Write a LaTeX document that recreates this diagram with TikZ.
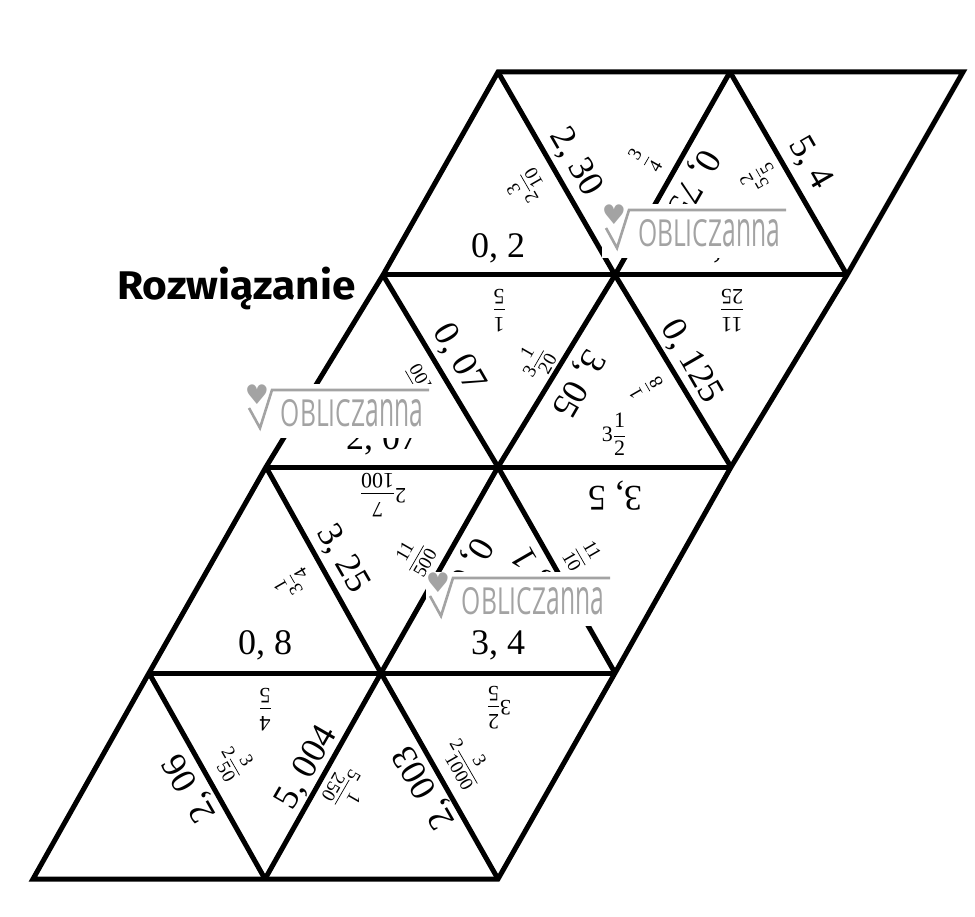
\documentclass[tikz,border=0pt]{standalone}
\usepackage{amsmath}
\usepackage{graphicx}
\usepackage{fontspec}
\setmainfont{Liberation Serif}
\newfontfamily\headfont{Fira Sans}
\newfontfamily\wmfont{Open Sans}
\newfontfamily\djv{DejaVu Sans}
\newcommand\Dfr[2]{\ensuremath{\dfrac{\text{#1}}{\text{#2}}}}
\definecolor{wmg}{HTML}{A3A3A3}
\begin{document}
\begin{tikzpicture}[x=1pt,y=-1pt,
  tri/.style={line width=5pt, line join=miter},
  big/.style={font=\fontsize{36}{36}\selectfont, inner sep=0pt},
  mid/.style={font=\fontsize{22}{26}\selectfont, inner sep=0pt},
  dmix/.style={font=\fontsize{19}{23}\selectfont, inner sep=0pt},
  dfr/.style={font=\fontsize{19}{22}\selectfont, inner sep=0pt},
  wmgray/.style={color=wmg},
  obl/.pic={
    \fill[white] (0,0) rectangle (188,54);
    \node[wmgray, font=\djv\fontsize{27}{27}\selectfont, inner sep=0pt] (-h) at (12,11) {♥};
    \draw[wmgray, line width=2.6pt, line join=miter] (4,24) -- (15,44) -- (27,6) -- (184,6);
    \node[wmgray, inner sep=0pt] (-t) at (107,29.5) {\resizebox{142pt}{27pt}{\wmfont OBLICZ\scalebox{1}[1.33]{anna}}};
  }]
\useasboundingbox (0,0) rectangle (975,917);
\fill[white] (0,0) rectangle (975,917);
% vertices
\coordinate (a0) at (498,72); \coordinate (a1) at (730,72); \coordinate (a2) at (963,72);
\coordinate (b0) at (383,275); \coordinate (b1) at (615,275); \coordinate (b2) at (847,275);
\coordinate (c0) at (266,467); \coordinate (c1) at (498,467); \coordinate (c2) at (731,467);
\coordinate (d0) at (149,673); \coordinate (d1) at (381,673); \coordinate (d2) at (615,673);
\coordinate (e0) at (33,879); \coordinate (e1) at (265,879); \coordinate (e2) at (498,879);
% outline
\draw[tri] (a0) -- (a2) -- (b2) -- (c2) -- (d2) -- (e2) -- (e0) -- (d0) -- (c0) -- (b0) -- cycle;
% inner lines
\draw[tri] (b0) -- (b2);
\draw[tri] (c0) -- (c2);
\draw[tri] (d0) -- (d2);
\draw[tri] (a1) -- (b1) -- (c1) -- (d1) -- (e1);
\draw[tri] (a0) -- (b1) -- (c2);
\draw[tri] (a1) -- (b2);
\draw[tri] (b0) -- (c1) -- (d2);
\draw[tri] (c0) -- (d1) -- (e2);
\draw[tri] (d0) -- (e1);
% labels row 1
\node[big] (l1) at (498,248) {0, 2};
\node[dmix, rotate=120] (l2) at (526,188) {2\Dfr{3}{10}};
\node[big, rotate=-60] (l3) at (575,162) {2, 30};
\node[dfr, rotate=60] (l4) at (645,160) {\Dfr{3}{4}};
\node[big, rotate=-120] (l5) at (692,183) {0, 75};
\node[dmix, rotate=120] (l6) at (759,178) {5\Dfr{2}{5}};
\node[big] (l7) at (731,248) {0, 44};
\node[big, rotate=-60] (l8) at (810,163) {5, 4};
% row 2
\node[big] (l9) at (382,440) {2, 07};
\node[dfr, rotate=120] (l10) at (411,384) {\Dfr{7}{100}};
\node[big, rotate=-60] (l11) at (458,358) {0, 07};
\node[mid, rotate=180] (l12) at (499,311) {\Dfr{1}{5}};
\node[dmix, rotate=60] (l13) at (535,362) {3\Dfr{1}{20}};
\node[big, rotate=-120] (l14) at (577,383) {3, 05};
\node[dfr, rotate=120] (l15) at (646,388) {\Dfr{1}{8}};
\node[big, rotate=-60] (l16) at (691,362) {0, 125};
\node[mid] (l17) at (614,434) {3\Dfr{1}{2}};
\node[mid, rotate=180] (l18) at (732,311) {\Dfr{11}{25}};
% row 3
\node[mid, rotate=180] (l19) at (383,495) {2\Dfr{7}{100}};
\node[big, rotate=180] (l20) at (615,496) {3, 5};
\node[big] (l21) at (265,645) {0, 8};
\node[dmix, rotate=120] (l22) at (293,584) {3\Dfr{1}{4}};
\node[big, rotate=-60] (l23) at (342,559) {3, 25};
\node[dfr, rotate=60] (l24) at (415,557) {\Dfr{11}{500}};
\node[big, rotate=-120] (l25) at (461,579) {0, 022};
\node[big, rotate=120] (l26) at (535,573) {1, 1};
\node[dfr, rotate=-60] (l27) at (582,556) {\Dfr{11}{10}};
\node[big] (l28) at (498,645) {3, 4};
% row 4
\node[mid, rotate=180] (l29) at (265,710) {\Dfr{4}{5}};
\node[mid, rotate=180] (l30) at (499,708) {3\Dfr{2}{5}};
\node[big, rotate=120] (l31) at (191,788) {2, 06};
\node[dmix, rotate=-60] (l32) at (234,762) {2\Dfr{3}{50}};
\node[big, rotate=60] (l33) at (307,768) {5, 004};
\node[dmix, rotate=-120] (l34) at (346,789) {5\Dfr{1}{250}};
\node[big, rotate=120] (l35) at (425,787) {2, 003};
\node[dmix, rotate=-60] (l36) at (467,762) {2\Dfr{3}{1000}};
% watermarks
\pic (w1) at (602,204) {obl};
\pic (w2) at (245,384) {obl};
\pic (w3) at (426,572) {obl};
% title
\node[anchor=base west, inner sep=0pt, font=\headfont\bfseries\fontsize{40}{40}\selectfont] (title) at (117,300) {\scalebox{1.06}[1]{Rozwiązanie}};
\end{tikzpicture}
\end{document}
